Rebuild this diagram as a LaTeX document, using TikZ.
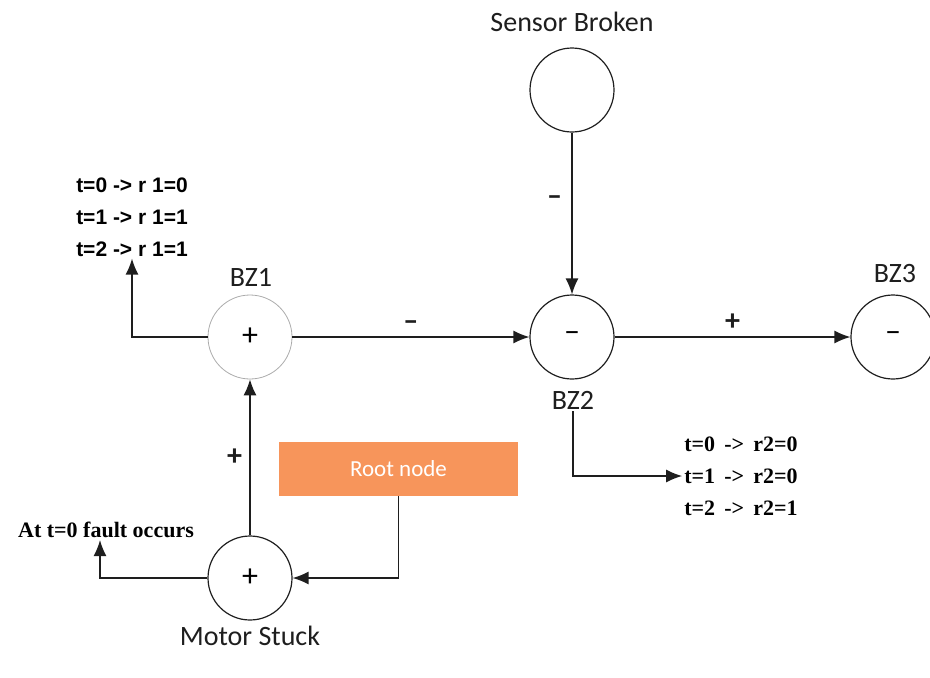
\documentclass[tikz,border=0pt]{standalone}
\usepackage{fontspec}
\setmainfont{Carlito}
\newfontfamily\arialbd{Liberation Sans}
\newfontfamily\timesbd{Liberation Serif}
\usetikzlibrary{arrows.meta, positioning, calc}
\definecolor{ink}{HTML}{1E1E1E}
\definecolor{faint}{HTML}{ABABAB}
\definecolor{rootfill}{HTML}{F7955B}

\begin{document}
\begin{tikzpicture}[
  x=1pt, y=-1pt,
  bz/.style={circle, draw=ink, line width=1.2pt, minimum size=84pt, inner sep=0pt,
             font=\fontsize{32}{32}\selectfont},
  lbl/.style={font=\fontsize{28}{30}\selectfont, text=ink, inner sep=2pt},
  sgn/.style={font=\bfseries\fontsize{30}{30}\selectfont, text=ink},
  arr/.style={-{Latex[length=16pt,width=13pt]}, line width=1.3pt, draw=ink},
  rtab/.style={font=\arialbd\bfseries\fontsize{21}{32}\selectfont, align=left, inner sep=2pt},
  ttab/.style={font=\timesbd\bfseries\fontsize{22}{32}\selectfont, align=left, inner sep=2pt}
]
\useasboundingbox (0,0) rectangle (930,678);

\node[bz] (sensor) at (572,90) {};
\node[bz, draw=faint, line width=0.8pt] (bz1) at (250,337) {+};
\node[bz] (bz2) at (572,337) {--};
\node[bz] (bz3) at (893,337) {--};
\node[bz] (motor) at (250,578) {+};
\node[fill=rootfill, minimum width=239pt, minimum height=54pt, text=white,
      font=\fontsize{23}{23}\selectfont] (root) at (398.5,469) {Root node};

\node[lbl] (sensorlbl) at (572,22) {Sensor Broken};
\node[lbl] (bz1lbl) at (251,277) {BZ1};
\node[lbl] (bz2lbl) at (573,400) {BZ2};
\node[lbl] (bz3lbl) at (895,274) {BZ3};
\node[lbl] (motorlbl) at (250,636) {Motor Stuck};

\node[rtab] (r1) at (132,217) {t=0 -> r 1=0\\ t=1 -> r 1=1\\ t=2 -> r 1=1};
\node[ttab] (r2) at (741,476) {t=0 \,->\, r2=0\\ t=1 \,->\, r2=0\\ t=2 \,->\, r2=1};
\node[ttab] (fault) at (106,530) {At t=0 fault occurs};

\draw[arr] (bz1) -- node[sgn, above=3pt] {--} (bz2);
\draw[arr] (bz2) -- node[sgn, above=3pt] {+} (bz3);
\draw[arr] (sensor) -- node[sgn, left=6pt, pos=0.42] {--} (bz2);
\draw[arr] (motor) -- node[sgn, left=4pt] {+} (bz1);
\draw[arr] (root.south) |- (motor.east);
\draw[arr] (bz1.west) -| (r1.south);
\draw[arr] (motor.west) -| ([xshift=-6pt]fault.south);
\draw[arr] (bz2lbl.south) |- (r2.west);
\end{tikzpicture}
\end{document}
